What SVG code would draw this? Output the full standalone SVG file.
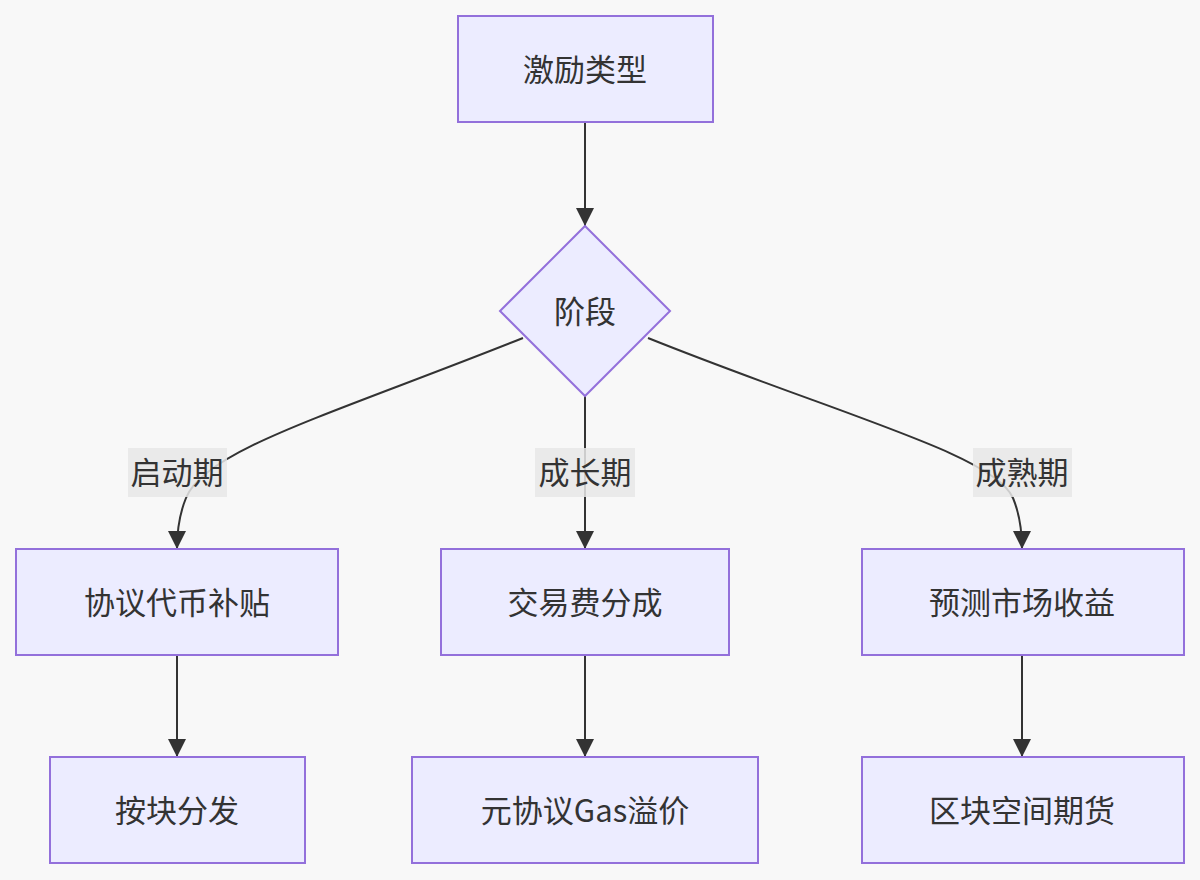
<svg xmlns="http://www.w3.org/2000/svg" width="1200" height="880" viewBox="0 0 1200 880">
<defs>
<style>
.node rect,.node polygon{fill:#ECECFF;stroke:#9370DB;stroke-width:2}
.node text,.lbl text{font-family:"Noto Sans CJK SC","Noto Sans",sans-serif;font-size:31px;fill:#333;text-anchor:middle;dominant-baseline:central}
.edge{fill:none;stroke:#333;stroke-width:2;marker-end:url(#arr)}
.lbl rect{fill:#e8e8e8;fill-opacity:0.85}
</style>
<marker id="arr" viewBox="0 0 10 10" refX="10" refY="5" markerWidth="18" markerHeight="18" markerUnits="userSpaceOnUse" orient="auto">
<path d="M0,0 L10,5 L0,10 z" fill="#333"/>
</marker>
</defs>
<rect width="1200" height="880" fill="#f8f8f8"/>
<g id="connectors">
<path class="edge" d="M585,122 L585,226"/>
<path class="edge" d="M523,338 C330,415 205,450 186,498 C179,515 177,530 177,549"/>
<path class="edge" d="M585,396 L585,549"/>
<path class="edge" d="M648,338 C840,415 995,455 1013,498 C1020,515 1022,530 1022,549"/>
<path class="edge" d="M177,655 L177,757"/>
<path class="edge" d="M585,655 L585,757"/>
<path class="edge" d="M1022,655 L1022,757"/>
</g>
<g id="edge-labels">
<g class="lbl"><rect x="128" y="448" width="99" height="49"/><text x="177" y="470">启动期</text></g>
<g class="lbl"><rect x="535" y="448" width="100" height="49"/><text x="585" y="470">成长期</text></g>
<g class="lbl"><rect x="973" y="448" width="99" height="49"/><text x="1022" y="470">成熟期</text></g>
</g>
<g id="n-type" class="node"><rect x="458" y="16" width="255" height="106"/><text x="585" y="67">激励类型</text></g>
<g id="n-stage" class="node"><polygon points="585,226 670,311 585,396 500,311"/><text x="585" y="309">阶段</text></g>
<g id="n-token" class="node"><rect x="16" y="549" width="322" height="106"/><text x="177" y="600">协议代币补贴</text></g>
<g id="n-fee" class="node"><rect x="441" y="549" width="288" height="106"/><text x="585" y="600">交易费分成</text></g>
<g id="n-pred" class="node"><rect x="862" y="549" width="322" height="106"/><text x="1022" y="600">预测市场收益</text></g>
<g id="n-block" class="node"><rect x="50" y="757" width="255" height="106"/><text x="177" y="808">按块分发</text></g>
<g id="n-gas" class="node"><rect x="412" y="757" width="346" height="106"/><text x="585" y="808">元协议Gas溢价</text></g>
<g id="n-fut" class="node"><rect x="862" y="757" width="322" height="106"/><text x="1022" y="808">区块空间期货</text></g>
</svg>
